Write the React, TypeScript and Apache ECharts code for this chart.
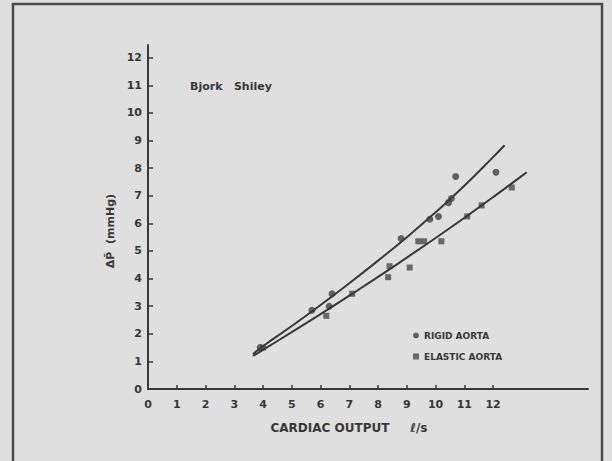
import React, { useEffect, useRef } from "react";
import * as echarts from "echarts";

const xTicks = [0, 1, 2, 3, 4, 5, 6, 7, 8, 9, 10, 11, 12];
const yTicks = [0, 1, 2, 3, 4, 5, 6, 7, 8, 9, 10, 11, 12];

const rigidPoints: [number, number][] = [
  [3.9, 1.5], [5.7, 2.85], [6.3, 3.0], [6.4, 3.45], [8.8, 5.45], [9.8, 6.15],
  [10.1, 6.25], [10.45, 6.75], [10.55, 6.9], [10.7, 7.7], [12.1, 7.85],
];
const elasticPoints: [number, number][] = [
  [4.0, 1.5], [6.2, 2.65], [7.1, 3.45], [8.35, 4.05], [8.4, 4.45], [9.1, 4.4],
  [9.4, 5.35], [9.6, 5.35], [10.2, 5.35], [11.1, 6.25], [11.6, 6.65], [12.65, 7.3],
];
const rigidCurve: [number, number][] = [
  [3.65, 1.27], [4, 1.55], [5, 2.28], [6, 3.04], [7, 3.83], [8, 4.65], [9, 5.5],
  [10, 6.4], [11, 7.36], [12, 8.4], [12.4, 8.83],
];
const elasticCurve: [number, number][] = [
  [3.65, 1.2], [4, 1.42], [5, 2.06], [6, 2.71], [7, 3.38], [8, 4.06], [9, 4.76],
  [10, 5.47], [11, 6.2], [12, 6.95], [13, 7.72], [13.17, 7.85],
];

const INK = "#383838";
const FONT = "DejaVu Sans";

export default function App() {
  const ref = useRef<HTMLDivElement>(null);
  useEffect(() => {
    document.body.style.margin = "0";
    const chart = echarts.init(ref.current!, null, { renderer: "svg" });
    chart.setOption({
      animation: false,
      backgroundColor: "#dfdfdf",
      grid: { left: 148, top: 45, width: 440, height: 344, containLabel: false },
      xAxis: {
        type: "value",
        min: 0,
        max: 15.3,
        interval: 1,
        splitLine: { show: false },
        axisLine: { lineStyle: { color: INK, width: 2 } },
        axisTick: { inside: true, length: 4, lineStyle: { color: INK, width: 1.5 }, customValues: xTicks },
        axisLabel: { customValues: xTicks, color: INK, fontFamily: FONT, fontWeight: "bold", fontSize: 11, margin: 10 },
        name: "CARDIAC OUTPUT     \u2113/s",
        nameLocation: "middle",
        nameGap: 33,
        nameTextStyle: { color: INK, fontFamily: FONT, fontWeight: "bold", fontSize: 12, padding: [0, 38, 0, 0] },
      },
      yAxis: {
        type: "value",
        min: 0,
        max: 12.46,
        interval: 1,
        splitLine: { show: false },
        axisLine: { lineStyle: { color: INK, width: 2 } },
        axisTick: { inside: true, length: 5, lineStyle: { color: INK, width: 1.5 }, customValues: yTicks },
        axisLabel: { customValues: yTicks, color: INK, fontFamily: FONT, fontWeight: "bold", fontSize: 11, margin: 6 },
        name: "\u0394P\u0304  (mmHg)",
        nameLocation: "middle",
        nameGap: 22,
        nameRotate: 90,
        nameTextStyle: { color: INK, fontFamily: FONT, fontWeight: "bold", fontSize: 11, padding: [0, 28, 0, 0] },
      },
      legend: {
        orient: "vertical",
        left: 408,
        top: 326,
        itemWidth: 6,
        itemHeight: 6,
        itemGap: 12,
        textStyle: { color: INK, fontFamily: FONT, fontWeight: "bold", fontSize: 9 },
        data: [
          { name: "RIGID AORTA", icon: "circle" },
          { name: "ELASTIC AORTA", icon: "rect" },
        ],
      },
      graphic: [
        {
          type: "rect",
          shape: { x: 13, y: 4, width: 589, height: 480 },
          style: { fill: "none", stroke: "#4a4a4a", lineWidth: 2.5 },
          silent: true,
        },
        {
          type: "text",
          x: 190,
          y: 81,
          style: { text: "Bjork   Shiley", fill: INK, font: `bold 11px "${FONT}"` },
        },
      ],
      series: [
        {
          type: "line",
          data: rigidCurve,
          smooth: true,
          showSymbol: false,
          lineStyle: { color: INK, width: 2 },
          silent: true,
        },
        {
          type: "line",
          data: elasticCurve,
          smooth: true,
          showSymbol: false,
          lineStyle: { color: INK, width: 2 },
          silent: true,
        },
        {
          name: "RIGID AORTA",
          type: "scatter",
          data: rigidPoints,
          symbol: "circle",
          symbolSize: 7,
          itemStyle: { color: "#404040" },
        },
        {
          name: "ELASTIC AORTA",
          type: "scatter",
          data: elasticPoints,
          symbol: "rect",
          symbolSize: 6,
          itemStyle: { color: "#4a4a4a" },
        },
      ],
    });
    return () => chart.dispose();
  }, []);
  return <div ref={ref} style={{ width: 612, height: 461 }} />;
}
